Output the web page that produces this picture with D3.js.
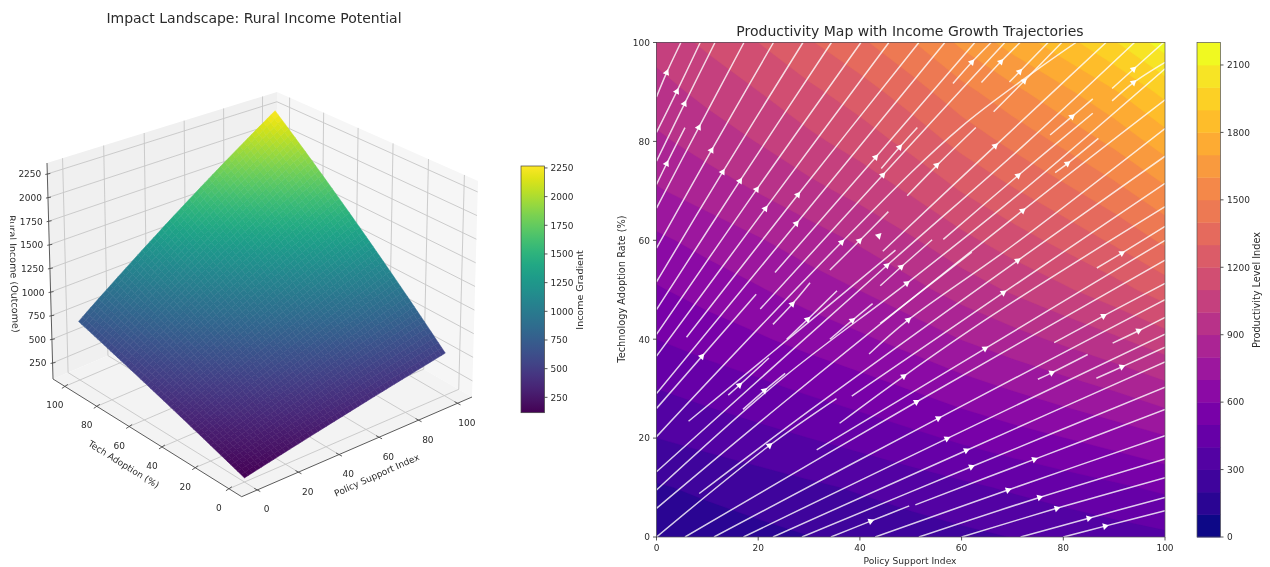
<!DOCTYPE html>
<html><head><meta charset="utf-8">
<script src="https://cdn.jsdelivr.net/npm/d3@7/dist/d3.min.js"></script>
<style>
html,body{margin:0;padding:0;background:#fff}
svg{display:block;filter:blur(0.45px)}
text{font-family:"DejaVu Sans",sans-serif;fill:#2b2b2b}
</style></head><body><svg id="c" width="1270" height="567"></svg>
<script>
// ---------- left panel data ----------
const surfaceTitle = "Impact Landscape: Rural Income Potential";
const policyTicks = [0,20,40,60,80,100];
const techTicks = [0,20,40,60,80,100];
const incomeTicks = [250,500,750,1000,1250,1500,1750,2000,2250];
const surfaceGridPolicy = [0,20,40,60,80,100];
const surfaceGridTech = [0,20,40,60,80,100];
const surfaceIncome = [
 [120,202,284,366,448,530],
 [236,364,492,621,749,877],
 [352,526,701,875,1050,1224],
 [468,689,909,1130,1350,1571],
 [584,851,1118,1384,1651,1918],
 [700,1013,1326,1639,1952,2265]
];
// ---------- right panel data ----------
const mapTitle = "Productivity Map with Income Growth Trajectories";
const mapTicks = [0,20,40,60,80,100];
const levelTicks = [0,300,600,900,1200,1500,1800,2100];
const levelBands = d3.range(0,2200,100);
const productivity = [
 [120,146,172,198,224,250,276,302,328,354,380],
 [190,220,250,281,312,345,379,413,447,482,520],
 [300,333,366,400,435,474,517,558,598,641,690],
 [400,438,475,516,557,604,656,706,756,808,870],
 [500,544,587,635,682,738,802,861,921,984,1060],
 [590,641,691,747,802,868,943,1014,1084,1160,1250],
 [680,735,791,852,914,987,1072,1152,1231,1317,1420],
 [790,847,905,969,1033,1112,1204,1289,1374,1467,1580],
 [880,942,1004,1075,1145,1231,1333,1427,1522,1624,1750],
 [960,1029,1098,1176,1254,1351,1465,1570,1675,1789,1930],
 [1040,1120,1200,1290,1380,1490,1620,1740,1860,1990,2150]
];
const trajectories = [
 [[0,89],[2,93.9],[4.8,100]],[[0,81.8],[4,90.1],[8.6,100]],[[0,76],[5.5,87.6],[11.5,100]],
 [[0,71.3],[2,75.5],[5.6,82.8]],[[0,66.5],[8.3,82.8],[17.2,100]],[[0,58.4],[10.8,78.2],[23,100]],
 [[0,51.6],[13,73.8],[28.8,100]],[[0,46],[16.4,72],[34.4,100]],[[0,41],[19.7,70.3],[40.2,100]],
 [[0,36.6],[21.4,66.4],[45.7,100]],[[5.9,40.4],[27.8,69.2],[51.6,100]],[[0,29],[27.5,63.4],[56.7,100]],
 [[0,26],[19.6,49.1]],[[23.3,53.5],[43.1,76.8],[62.6,100]],[[20.4,46.1],[44.5,73.2],[68.5,100]],
 [[0,20.3],[36.4,59.6],[60,83],[82.5,100]],[[34.1,54],[39.9,59.9],[45.6,65.8]],[[22.9,43],[26.7,47.1],[30.2,51.4]],
 [[25.6,40],[29.7,44],[35.5,49.8]],[[34.1,40],[38.5,43.8],[42.5,47.2]],[[44,50.8],[48.1,54.6],[54.2,60.1]],
 [[44.5,57.8],[66.6,79.1],[88.4,100]],[[0,13.2],[45.3,54.9],[72,79],[94,100]],
 [[0,9.5],[25,32.3],[49.2,51.3],[72,70],[100,94.7]],[[56.4,60.2],[71.1,73.1],[85.8,85.7]],
 [[0,5.8],[25,27.2],[72,66],[100,88.4]],[[8.4,8.8],[30,25.5],[71,55.9],[100,77]],
 [[41.8,37],[49.5,43.9],[70,58.9],[100,82.6]],[[44,43.2],[62,57.6]],
 [[0,0],[22.2,18.5],[35.4,28]],[[38.4,28.5],[68.2,49.4],[100,71.5]],
 [[14.1,28.7],[16.3,30.7],[22.1,36.2]],[[17,25.8],[21.2,29.6],[25.3,33.1]],[[6.3,23.4],[30,43.5],[47,58]],
 [[31.5,17.6],[64.6,38.1],[100,60]],[[36,23],[48.6,32.5],[66,44.8],[100,66.8]],
 [[5.6,0],[51.1,27.3],[100,56]],[[11.3,0],[55.4,24],[100,48]],[[17.1,0],[57.1,19.9],[100,41]],
 [[22.9,0],[60.9,17.5],[100,35.4]],[[28.6,0],[61.9,14.2],[100,30.3]],[[34.3,0],[42.1,3.2],[49.7,6.3]],
 [[50.9,6.5],[74.3,15.7],[100,25.8]],[[43,0],[69.1,9.5],[100,20.5]],[[51.6,0],[75.3,8],[100,15.8]],
 [[60,0],[78.7,5.8],[100,12]],[[71.6,0],[85,3.8],[100,8]],[[80,0],[88.2,2.2],[100,5.3]],
 [[75,31.9],[77.7,33.2],[84.8,36.9]],[[78.2,39.3],[87.9,44.7],[100,51.3]],[[89.7,39.2],[94.8,41.7],[100,44.4]],
 [[86.5,32.1],[91.5,34.4],[100,38.4]],[[86.6,54.4],[91.5,57.4],[100,62.8]],
 [[44.2,74.5],[47.8,78.8],[51.3,82.8]],[[49.3,69],[55.1,75.1],[62.8,82.8]],
 [[58.3,91.7],[62,96],[65.8,100]],[[63.9,91.9],[67.7,96.1],[71.5,100]],[[69.4,92],[71.4,94.1],[77,100]],
 [[66.3,86],[72.3,92.2],[79.7,100]],[[89.6,90.7],[93.8,94.6],[99.7,100]],[[89.6,88.2],[93.8,91.9],[100,96]],
 [[77.4,81.3],[81.7,85],[85.8,88.6]],[[78.4,73.7],[80.8,75.5],[86.9,80.6]]
];
const arrowPoints = [
 [2,93.9],[4,90.1],[5.5,87.6],[8.3,82.8],[10.8,78.2],[13,73.8],[16.4,72],[19.7,70.3],[21.4,66.4],[27.8,69.2],
 [27.5,63.4],[36.4,59.6],[39.9,59.9],[43.7,60.9],[45.3,54.9],[48.1,54.6],[49.2,51.3],[43.1,76.8],[47.8,78.8],
 [44.5,73.2],[55.1,75.2],[2,75.5],[8.9,36.5],[16.3,30.7],[21.2,29.6],[22.2,18.5],[26.7,47.1],[29.7,44],[38.5,43.8],
 [49.5,43.9],[48.6,32.5],[51.1,27.3],[55.4,24],[42.1,3.2],[68.2,49.4],[64.6,38.1],[57.1,19.9],[60.9,17.5],[61.9,14.2],
 [74.3,15.7],[69.1,9.5],[75.3,8],[78.7,5.8],[85,3.8],[88.2,2.2],[87.9,44.7],[94.8,41.7],[91.5,34.4],[77.7,33.2],
 [62,96],[67.7,96.1],[71.4,94.1],[72.3,92.2],[93.8,94.6],[93.8,91.9],[81.7,85],[66.6,79.1],[80.8,75.5],[71.1,73.1],
 [72,66],[91.5,57.4],[71,55.9]
];

const svg = d3.select("#c");
const ink = "#2b2b2b";
function label(x,y,t,size,opts={}){
  const s = svg.append("text").attr("x",x).attr("y",y).attr("font-size",size).text(t)
    .attr("text-anchor",opts.anchor||"middle");
  if(opts.rot!==undefined) s.attr("transform",`rotate(${opts.rot} ${x} ${y})`);
  return s;
}

// ========== LEFT: 3D surface ==========
const boxFloor = {F:[241.7,496.7],L:[53,379],R:[472,397],B:[276,284]};
const boxTop   = {F:[240,258],L:[47,163],R:[478,181],B:[277,92]};
const persp = 0.04;
const zLo=80, zHi=2366, lo=-7.5, hi=107.5;
const axisFrac = d3.scaleLinear().domain([lo,hi]).range([0,1]);
const zFrac = d3.scaleLinear().domain([zLo,zHi]).range([0,1]);
const warp = t => t*(1+persp)/(1+persp*t);
function corner(u,v,c){
  return [0,1].map(i => (1-u)*(1-v)*c.F[i] + u*(1-v)*c.R[i] + (1-u)*v*c.L[i] + u*v*c.B[i]);
}
function project(x,y,z){
  const u=warp(axisFrac(x)), v=warp(axisFrac(y)), w=zFrac(z);
  const a=corner(u,v,boxFloor), b=corner(u,v,boxTop);
  return [a[0]+(b[0]-a[0])*w, a[1]+(b[1]-a[1])*w];
}
const poly = pts => "M"+pts.map(p=>p.map(n=>n.toFixed(2)).join(",")).join("L")+"Z";
const g3 = svg.append("g");
g3.append("path").attr("d",poly([project(lo,hi,zLo),project(hi,hi,zLo),project(hi,hi,zHi),project(lo,hi,zHi)])).attr("fill","#f0f0f0");
g3.append("path").attr("d",poly([project(hi,hi,zLo),project(hi,lo,zLo),project(hi,lo,zHi),project(hi,hi,zHi)])).attr("fill","#f6f6f6");
g3.append("path").attr("d",poly([project(lo,lo,zLo),project(hi,lo,zLo),project(hi,hi,zLo),project(lo,hi,zLo)])).attr("fill","#f3f3f3");
const gridLine=(a,b)=>g3.append("path").attr("d","M"+a+"L"+b).attr("stroke","#c6c6c6").attr("stroke-width",0.9).attr("fill","none");
policyTicks.forEach(t=>{ gridLine(project(t,hi,zLo),project(t,hi,zHi)); gridLine(project(t,lo,zLo),project(t,hi,zLo)); });
techTicks.forEach(t=>{ gridLine(project(hi,t,zLo),project(hi,t,zHi)); gridLine(project(lo,t,zLo),project(hi,t,zLo)); });
incomeTicks.forEach(t=>{ gridLine(project(lo,hi,t),project(hi,hi,t)); gridLine(project(hi,hi,t),project(hi,lo,t)); });
const axLine=(a,b,w=0.9)=>g3.append("path").attr("d","M"+a+"L"+b).attr("stroke","#4a4a4a").attr("stroke-width",w).attr("fill","none");
axLine(project(lo,lo,zLo),project(hi,lo,zLo));
axLine(project(lo,lo,zLo),project(lo,hi,zLo));
axLine(project(lo,hi,zLo),project(lo,hi,zHi));
policyTicks.forEach(t=>{
  const p=project(t,lo,zLo);
  axLine([p[0]-3,p[1]-1.6],[p[0]+3,p[1]+1.6]);
  label(p[0]+9.3,p[1]+22.5,t,9);
});
techTicks.forEach(t=>{
  const p=project(lo,t,zLo);
  axLine([p[0]-3,p[1]+2],[p[0]+3,p[1]-2]);
  label(p[0]-10,p[1]+22,t,9);
});
incomeTicks.forEach(t=>{
  const p=project(lo,hi,t);
  axLine([p[0]-2,p[1]+0.5],[p[0]+3,p[1]-0.5]);
  label(p[0]-6,p[1]+3.5,t,9,{anchor:"end"});
});
// surface: each read cell is shaded with a fine mesh
const surfaceColor = d3.scaleSequential(d3.interpolateViridis).domain([116,2267]);
const shade = 10;
const gs = svg.append("g");
const cells=[];
for(let j=surfaceGridTech.length-2;j>=0;j--) for(let i=surfaceGridPolicy.length-2;i>=0;i--){
  const x0=surfaceGridPolicy[i],x1=surfaceGridPolicy[i+1],y0=surfaceGridTech[j],y1=surfaceGridTech[j+1];
  const z00=surfaceIncome[j][i],z10=surfaceIncome[j][i+1],z01=surfaceIncome[j+1][i],z11=surfaceIncome[j+1][i+1];
  const q=(a,b)=>[x0+(x1-x0)*a,y0+(y1-y0)*b,(1-a)*(1-b)*z00+a*(1-b)*z10+(1-a)*b*z01+a*b*z11];
  for(let b=shade-1;b>=0;b--) for(let a=shade-1;a>=0;a--){
    const A=a/shade,B=b/shade,d=1/shade;
    const cs=[q(A,B),q(A+d,B),q(A+d,B+d),q(A,B+d)];
    cells.push({d:poly(cs.map(c=>project(...c))),z:d3.mean(cs,c=>c[2])});
  }
}
gs.selectAll("path").data(cells).join("path").attr("d",d=>d.d)
  .attr("fill",d=>surfaceColor(d.z)).attr("stroke",d=>surfaceColor(d.z)).attr("stroke-width",0.5);
label(254,23,surfaceTitle,14);
label(378,478,"Policy Support Index",9,{rot:-24});
label(122,467,"Tech Adoption (%)",9,{rot:32});
const defs = svg.append("defs");
defs.append("clipPath").attr("id","leftEdge").append("rect").attr("x",10).attr("y",0).attr("width",1260).attr("height",567);
svg.append("g").attr("clip-path","url(#leftEdge)").append("text")
  .attr("x",10.5).attr("y",274).attr("text-anchor","middle").attr("font-size",9.6)
  .attr("transform","rotate(88 10.5 274)").text("Rural Income (Outcome)");
// left colorbar
const cb1 = {x:521,w:23.5,y0:412.7,y1:166};
const cb1y = d3.scaleLinear().domain([116,2267]).range([cb1.y0,cb1.y1]);
const grad = defs.append("linearGradient").attr("id","vir").attr("x1",0).attr("x2",0).attr("y1",1).attr("y2",0);
d3.range(0,1.0001,0.05).forEach(t=>grad.append("stop").attr("offset",t).attr("stop-color",d3.interpolateViridis(t)));
svg.append("rect").attr("x",cb1.x).attr("y",cb1.y1).attr("width",cb1.w).attr("height",cb1.y0-cb1.y1).attr("fill","url(#vir)").attr("stroke","#444").attr("stroke-width",0.7);
incomeTicks.forEach(t=>{
  svg.append("line").attr("x1",cb1.x+cb1.w).attr("x2",cb1.x+cb1.w+3).attr("y1",cb1y(t)).attr("y2",cb1y(t)).attr("stroke",ink).attr("stroke-width",0.8);
  label(cb1.x+cb1.w+6,cb1y(t)+3.3,t,9,{anchor:"start"});
});
label(583,290,"Income Gradient",9.5,{rot:-90});

// ========== RIGHT: contour map ==========
const mx = d3.scaleLinear().domain([0,100]).range([656.5,1165]);
const my = d3.scaleLinear().domain([0,100]).range([537,42.5]);
const gridN = productivity.length;
const bandColor = t => d3.interpolatePlasma(t/2100);
defs.append("clipPath").attr("id","mapClip").append("rect").attr("x",mx(0)).attr("y",my(100)).attr("width",mx(100)-mx(0)).attr("height",my(0)-my(100));
const gm = svg.append("g").attr("clip-path","url(#mapClip)");
gm.append("rect").attr("x",mx(0)).attr("y",my(100)).attr("width",mx(100)-mx(0)).attr("height",my(0)-my(100)).attr("fill",bandColor(0));
const contourGen = d3.contours().size([gridN,gridN]).thresholds(levelBands.slice(1));
const gridStep = 100/(gridN-1);
const cPath = d3.geoPath(d3.geoTransform({point(x,y){this.stream.point(mx((x-0.5)*gridStep),my((y-0.5)*gridStep));}}));
gm.selectAll("path.band").data(contourGen(productivity.flat())).join("path").attr("class","band")
  .attr("d",cPath).attr("fill",d=>bandColor(d.value)).attr("stroke",d=>bandColor(d.value)).attr("stroke-width",0.3);
const lineGen = d3.line().x(d=>mx(d[0])).y(d=>my(d[1])).curve(d3.curveCatmullRom);
gm.selectAll("path.stream").data(trajectories).join("path").attr("class","stream")
  .attr("d",lineGen).attr("fill","none").attr("stroke","#fff").attr("stroke-opacity",0.8).attr("stroke-width",1.5);
function heading(p){
  let best=1e9,ang=0;
  trajectories.forEach(s=>{ for(let i=0;i<s.length-1;i++){
    const a=s[i],b=s[i+1];
    const dx=b[0]-a[0],dy=b[1]-a[1],L=dx*dx+dy*dy;
    const t=Math.max(0,Math.min(1,((p[0]-a[0])*dx+(p[1]-a[1])*dy)/L));
    const d=Math.hypot(a[0]+t*dx-p[0],a[1]+t*dy-p[1]);
    if(d<best){best=d;ang=Math.atan2(-(my(b[1])-my(a[1])),mx(b[0])-mx(a[0]));}
  }});
  return 90-ang*180/Math.PI;
}
const tri = d3.symbol().type(d3.symbolTriangle).size(20);
gm.selectAll("path.arrow").data(arrowPoints).join("path").attr("class","arrow")
  .attr("d",tri()).attr("fill","#fff")
  .attr("transform",d=>`translate(${mx(d[0])},${my(d[1])}) rotate(${heading(d)})`);
svg.append("rect").attr("x",mx(0)).attr("y",my(100)).attr("width",mx(100)-mx(0)).attr("height",my(0)-my(100)).attr("fill","none").attr("stroke","#555").attr("stroke-width",0.7);
mapTicks.forEach(t=>{
  svg.append("line").attr("x1",mx(t)).attr("x2",mx(t)).attr("y1",537).attr("y2",540.5).attr("stroke",ink).attr("stroke-width",0.8);
  label(mx(t),551,t,9);
  svg.append("line").attr("y1",my(t)).attr("y2",my(t)).attr("x1",653).attr("x2",656.5).attr("stroke",ink).attr("stroke-width",0.8);
  label(650,my(t)+3.3,t,9,{anchor:"end"});
});
label(910,564,"Policy Support Index",9.1);
label(625,289,"Technology Adoption Rate (%)",9.8,{rot:-90});
label(910,36,mapTitle,14);
// right colorbar
const cb2 = {x:1197,w:23.5};
const cb2y = d3.scaleLinear().domain([0,2200]).range([537,42.5]);
svg.selectAll("rect.lev").data(levelBands).join("rect").attr("class","lev")
  .attr("x",cb2.x).attr("width",cb2.w).attr("y",d=>cb2y(d+100)).attr("height",d=>cb2y(d)-cb2y(d+100)+0.4).attr("fill",bandColor);
svg.append("rect").attr("x",cb2.x).attr("y",42.5).attr("width",cb2.w).attr("height",494.5).attr("fill","none").attr("stroke","#555").attr("stroke-width",0.7);
levelTicks.forEach(t=>{
  svg.append("line").attr("x1",cb2.x+cb2.w).attr("x2",cb2.x+cb2.w+3).attr("y1",cb2y(t)).attr("y2",cb2y(t)).attr("stroke",ink).attr("stroke-width",0.8);
  label(cb2.x+cb2.w+6.5,cb2y(t)+3.3,t,9,{anchor:"start"});
});
label(1260,290,"Productivity Level Index",9.7,{rot:-90});
</script></body></html>
